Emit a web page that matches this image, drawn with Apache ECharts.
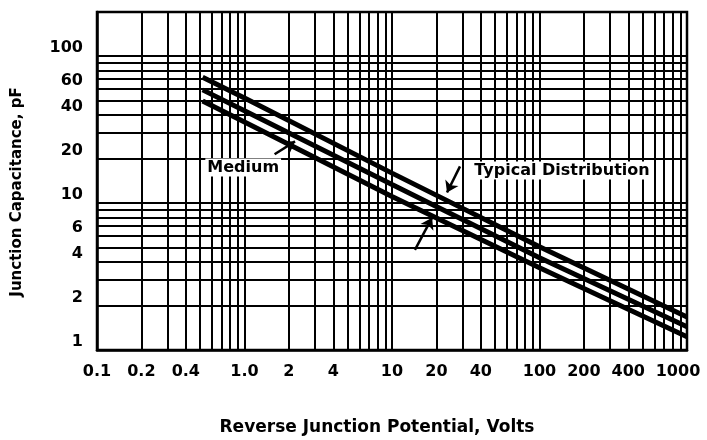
<!DOCTYPE html>
<html>
<head>
<meta charset="utf-8">
<script src="https://cdn.jsdelivr.net/npm/echarts@6/dist/echarts.min.js"></script>
<style>
  html, body { margin: 0; padding: 0; background: #fff; }
  #chart { width: 707px; height: 440px; }
</style>
</head>
<body>
<div id="chart"></div>
<script>
// 反向结电压 (V) 与三条曲线的电容值 (pF)
var volts = [0.52, 1, 10, 100, 1000]
var upperCap = [72, 52, 16.0, 5.05, 1.68]
var mediumCap = [59, 42.5, 13.4, 4.25, 1.44]
var lowerCap = [49.5, 35.6, 11.1, 3.63, 1.23]

// 刻度标签
var xLabels = [0.1, 0.2, 0.4, 1, 2, 4, 10, 20, 40, 100, 200, 400, 1000]
var yLabels = [1, 2, 4, 6, 10, 20, 40, 60, 100]

// 网格线
var xGrid = [0.1, 0.2, 0.3, 0.4, 0.5, 0.6, 0.7, 0.8, 0.9,
  1, 2, 3, 4, 5, 6, 7, 8, 9,
  10, 20, 30, 40, 50, 60, 70, 80, 90,
  100, 200, 300, 400, 500, 600, 700, 800, 900, 1000]
var yGrid = [1, 2, 3, 4, 5, 6, 7, 8, 9,
  10, 20, 30, 40, 50, 60, 70, 80, 90, 100]

var font = 'DejaVu Sans'
var ink = '#000'

function pairs(ys) {
  return volts.map(function (v, i) { return [v, ys[i]] })
}

function curve(name, ys) {
  return {
    name: name,
    type: 'line',
    symbol: 'none',
    smooth: false,
    lineStyle: { color: ink, width: 5 },
    data: pairs(ys),
    z: 3
  }
}

var chart = echarts.init(document.getElementById('chart'))

var arrowStyle = { color: ink, width: 2.5, type: 'solid' }

var series = [
  curve('upper', upperCap),
  curve('medium', mediumCap),
  curve('lower', lowerCap)
]

// 注释：文字和箭头
series[1].markLine = {
  silent: true,
  symbol: ['none', 'arrow'],
  symbolSize: 11,
  label: { show: false },
  lineStyle: arrowStyle,
  data: [
    [{ coord: [1.6, 21.5] }, { coord: [2.2, 26.3] }],
    [{ coord: [28.9, 17.8] }, { coord: [23.6, 11.8] }],
    [{ coord: [14.3, 4.8] }, { coord: [18.7, 7.96] }]
  ]
}
series[1].markPoint = {
  silent: true,
  symbol: 'circle',
  symbolSize: 0,
  label: {
    show: true,
    position: 'inside',
    color: ink,
    fontFamily: font,
    fontWeight: 'bold',
    fontSize: 16,
    backgroundColor: '#fff',
    padding: [1, 2],
    formatter: function (p) { return p.name }
  },
  data: [
    { name: 'Medium', coord: [0.98, 17.5] },
    { name: 'Typical Distribution', coord: [142, 16.7] }
  ]
}

var tickText = { color: ink, fontFamily: font, fontWeight: 'bold', fontSize: 16 }

var option = {
  animation: false,
  backgroundColor: '#fff',
  grid: {
    left: 97,
    right: 20,
    top: 12,
    bottom: 90,
    outerBoundsMode: 'none',
    containLabel: false,
    show: true,
    borderColor: ink,
    borderWidth: 2.5,
    backgroundColor: 'transparent'
  },
  xAxis: {
    type: 'log',
    min: 0.1,
    max: 1000,
    name: 'Reverse Junction Potential, Volts',
    nameLocation: 'middle',
    nameGap: 69,
    nameTextStyle: {
      color: ink, fontFamily: font, fontWeight: 'bold', fontSize: 17,
      padding: [0, 30, 0, 0]
    },
    axisLine: { show: true, lineStyle: { color: ink, width: 2.5 } },
    axisTick: { show: false, customValues: xGrid },
    axisLabel: {
      customValues: xLabels,
      margin: 14,
      color: ink,
      fontFamily: font,
      fontWeight: 'bold',
      fontSize: 16,
      formatter: function (v) {
        if (v === 1000) return '{last|1000}'
        return v === 1 ? '1.0' : String(v)
      },
      rich: {
        last: Object.assign({ padding: [0, 18, 0, 0] }, tickText)
      }
    },
    splitLine: { show: true, lineStyle: { color: ink, width: 2 } },
    minorSplitLine: { show: false }
  },
  yAxis: {
    type: 'log',
    min: 1,
    max: 200,
    name: 'Junction Capacitance, pF',
    nameLocation: 'middle',
    nameGap: 72,
    nameRotate: 90,
    nameTextStyle: {
      color: ink, fontFamily: font, fontWeight: 'bold', fontSize: 15,
      padding: [0, 22, 0, 0]
    },
    axisLine: { show: true, lineStyle: { color: ink, width: 2.5 } },
    axisTick: { show: false, customValues: yGrid },
    axisLabel: {
      customValues: yLabels,
      margin: 14,
      color: ink,
      fontFamily: font,
      fontWeight: 'bold',
      fontSize: 16,
      verticalAlign: 'bottom',
      lineHeight: 16,
      formatter: function (v) { return String(v) }
    },
    splitLine: { show: true, lineStyle: { color: ink, width: 2 } },
    minorSplitLine: { show: false }
  },
  series: series
}

chart.setOption(option)
</script>
</body>
</html>
